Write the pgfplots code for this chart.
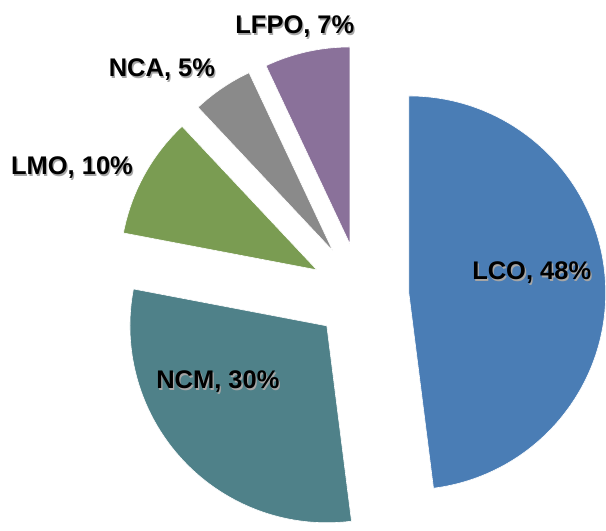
\documentclass[border=0pt]{standalone}
\usepackage{pgfplots}
\usepackage{pgfplotstable}
\pgfplotsset{compat=1.18}
\usepackage{fontspec}
\setmainfont{Liberation Sans}
\definecolor{slice0}{HTML}{4A7DB5}
\definecolor{slice1}{HTML}{4F8189}
\definecolor{slice2}{HTML}{7A9C52}
\definecolor{slice3}{HTML}{8A8A8A}
\definecolor{slice4}{HTML}{8A719A}
% pct = share, start = cumulative share before slice, (ax,ay) = exploded apex, (lx,ly) = label
\pgfplotstableread{
name pct start ax ay lx ly
LCO 48 0 409 230 532 250
NCM 30 48 327 197 218 141
LMO 10 78 317 253 72 355
NCA 5 88 333 272 162 453
LFPO 7 93 350 279 295 496
}\slices
\begin{document}
\begin{tikzpicture}
\begin{axis}[
  x=1pt, y=1pt,
  xmin=0, xmax=606, ymin=0, ymax=523,
  hide axis, clip=false,
]
\path (axis cs:0,0) rectangle (axis cs:606,523);
\pgfplotsinvokeforeach{0,...,4}{
  \pgfplotstablegetelem{#1}{pct}\of\slices \edef\p{\pgfplotsretval}
  \pgfplotstablegetelem{#1}{start}\of\slices \edef\s{\pgfplotsretval}
  \pgfplotstablegetelem{#1}{ax}\of\slices \edef\ax{\pgfplotsretval}
  \pgfplotstablegetelem{#1}{ay}\of\slices \edef\ay{\pgfplotsretval}
  \pgfplotstablegetelem{#1}{lx}\of\slices \edef\lx{\pgfplotsretval}
  \pgfplotstablegetelem{#1}{ly}\of\slices \edef\ly{\pgfplotsretval}
  \pgfplotstablegetelem{#1}{name}\of\slices \edef\nm{\pgfplotsretval}
  \pgfmathsetmacro\sa{90-3.6*\s}
  \pgfmathsetmacro\ea{90-3.6*(\s+\p)}
  \edef\temp{%
    \noexpand\fill[slice#1, draw=white, line width=0.6pt, line join=round]
      (axis cs:\ax,\ay) -- ([shift={(\sa:197pt)}]axis cs:\ax,\ay)
      arc[start angle=\sa, end angle=\ea, radius=197pt] -- cycle;
    \noexpand\node[font=\noexpand\fontsize{25.5}{30}\noexpand\selectfont\noexpand\bfseries, text=black!35, inner sep=0pt]
      at ([shift={(1.3pt,-1.3pt)}]axis cs:\lx,\ly) {\nm, \p\noexpand\%};
    \noexpand\node[font=\noexpand\fontsize{25.5}{30}\noexpand\selectfont\noexpand\bfseries, text=black, inner sep=0pt]
      at (axis cs:\lx,\ly) {\nm, \p\noexpand\%};
  }
  \temp
}
\end{axis}
\end{tikzpicture}
\end{document}
